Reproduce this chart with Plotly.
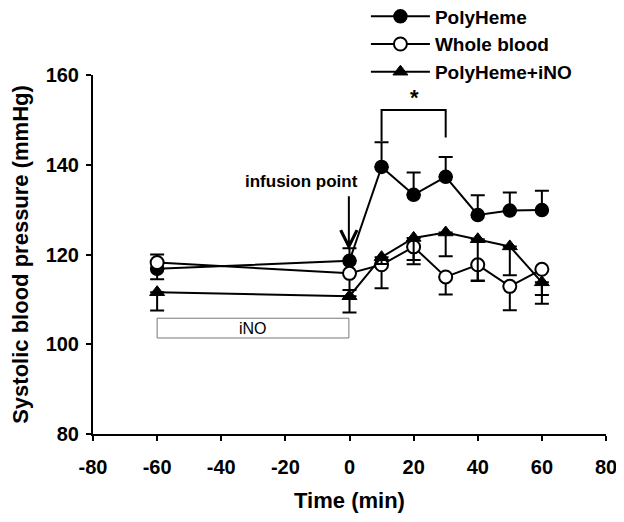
import plotly.graph_objects as go

time = [-60, 0, 10, 20, 30, 40, 50, 60]

polyheme = [116.8, 118.6, 139.5, 133.3, 137.3, 128.8, 129.8, 129.9]
polyheme_err_up = [3.2, 2.8, 5.5, 5.0, 4.4, 4.4, 4.0, 4.3]

whole_blood = [118.2, 115.8, 117.7, 121.7, 115.0, 117.7, 112.9, 116.7]
whole_blood_err_down = [3.7, 3.7, 5.2, 3.9, 3.9, 3.5, 5.3, 5.7]

polyheme_ino = [111.6, 110.7, 119.4, 123.7, 124.9, 123.4, 121.8, 113.8]
polyheme_ino_err_down = [4.1, 3.6, 1.5, 4.9, 5.3, 9.3, 6.4, 4.8]

x_ticks = [-80, -60, -40, -20, 0, 20, 40, 60, 80]
x_ticktext = ["-80", "-60", "-40", "-20", "0", "20", "40", "60", "80"]
y_ticks = [80, 100, 120, 140, 160]
y_ticktext = ["80", "100", "120", "140", "160"]

FONT = "Liberation Sans, Arial, sans-serif"
BLACK = "#000000"

fig = go.Figure()

zeros = [0] * len(time)

fig.add_trace(go.Scatter(
    x=time, y=polyheme, name="PolyHeme", mode="lines+markers",
    line=dict(color=BLACK, width=2),
    marker=dict(symbol="circle", size=13, color=BLACK, line=dict(color=BLACK, width=1.5)),
    error_y=dict(type="data", symmetric=False, array=polyheme_err_up, arrayminus=zeros,
                 color=BLACK, thickness=2, width=7),
))
fig.add_trace(go.Scatter(
    x=time, y=whole_blood, name="Whole blood", mode="lines+markers",
    line=dict(color=BLACK, width=2),
    marker=dict(symbol="circle", size=13, color="white", line=dict(color=BLACK, width=2)),
    error_y=dict(type="data", symmetric=False, array=zeros, arrayminus=whole_blood_err_down,
                 color=BLACK, thickness=2, width=7),
))
fig.add_trace(go.Scatter(
    x=time, y=polyheme_ino, name="PolyHeme+iNO", mode="lines+markers",
    line=dict(color=BLACK, width=2),
    marker=dict(symbol="triangle-up", size=13, color=BLACK, line=dict(color=BLACK, width=1)),
    error_y=dict(type="data", symmetric=False, array=zeros, arrayminus=polyheme_ino_err_down,
                 color=BLACK, thickness=2, width=7),
))

# iNO box
fig.add_shape(type="rect", x0=-60, x1=-0.2, y0=101.4, y1=105.8,
              line=dict(color="#777777", width=1), fillcolor="white", layer="below")
fig.add_annotation(x=-30, y=103.6, text="iNO", showarrow=False,
                   font=dict(family=FONT, size=16, color=BLACK))

# infusion point arrow
fig.add_annotation(x=-0.2, y=121.0, ax=-0.2, ay=133.3, axref="x", ayref="y",
                   text="", showarrow=True, arrowhead=5, arrowsize=1.6, arrowwidth=2,
                   arrowcolor=BLACK)
fig.add_annotation(x=-15.1, y=136.2, text="<b>infusion point</b>", showarrow=False,
                   font=dict(family=FONT, size=17, color=BLACK))

# significance bracket
fig.add_shape(type="path", path="M 10,145.3 L 10,152.2 L 30,152.2 L 30,146.1",
              line=dict(color=BLACK, width=2))
fig.add_annotation(x=20.3, y=155.0, text="<b>*</b>", showarrow=False,
                   font=dict(family=FONT, size=22, color=BLACK))

axis_common = dict(
    showline=True, linecolor=BLACK, linewidth=2, mirror=False,
    ticks="outside", tickcolor=BLACK, tickwidth=2, ticklen=5,
    showgrid=False, zeroline=False, ticklabeloverflow="allow",
    tickfont=dict(family=FONT, size=20, color=BLACK),
)

fig.update_xaxes(range=[-80, 80], tickvals=x_ticks,
                 ticktext=["<b>%s</b>" % t for t in x_ticktext], ticklabelstandoff=9,
                 title=dict(text="<b>Time (min)</b>", font=dict(family=FONT, size=22, color=BLACK),
                            standoff=16),
                 **axis_common)
fig.update_yaxes(range=[80, 160], tickvals=y_ticks,
                 ticktext=["<b>%s</b>" % t for t in y_ticktext], ticklabelstandoff=3,
                 title=dict(text="<b>Systolic blood pressure (mmHg)</b>",
                            font=dict(family=FONT, size=22, color=BLACK), standoff=14),
                 **axis_common)

fig.update_layout(
    width=624, height=522,
    margin=dict(l=85, r=26, t=67, b=96, autoexpand=False),
    plot_bgcolor="white", paper_bgcolor="white",
    showlegend=True,
    legend=dict(x=0.532, y=1.216, xanchor="left", yanchor="top",
                font=dict(family=FONT, size=19, color=BLACK, weight="bold"),
                bgcolor="rgba(0,0,0,0)", tracegroupgap=0, itemwidth=59),
)

fig.write_html("out.html")
